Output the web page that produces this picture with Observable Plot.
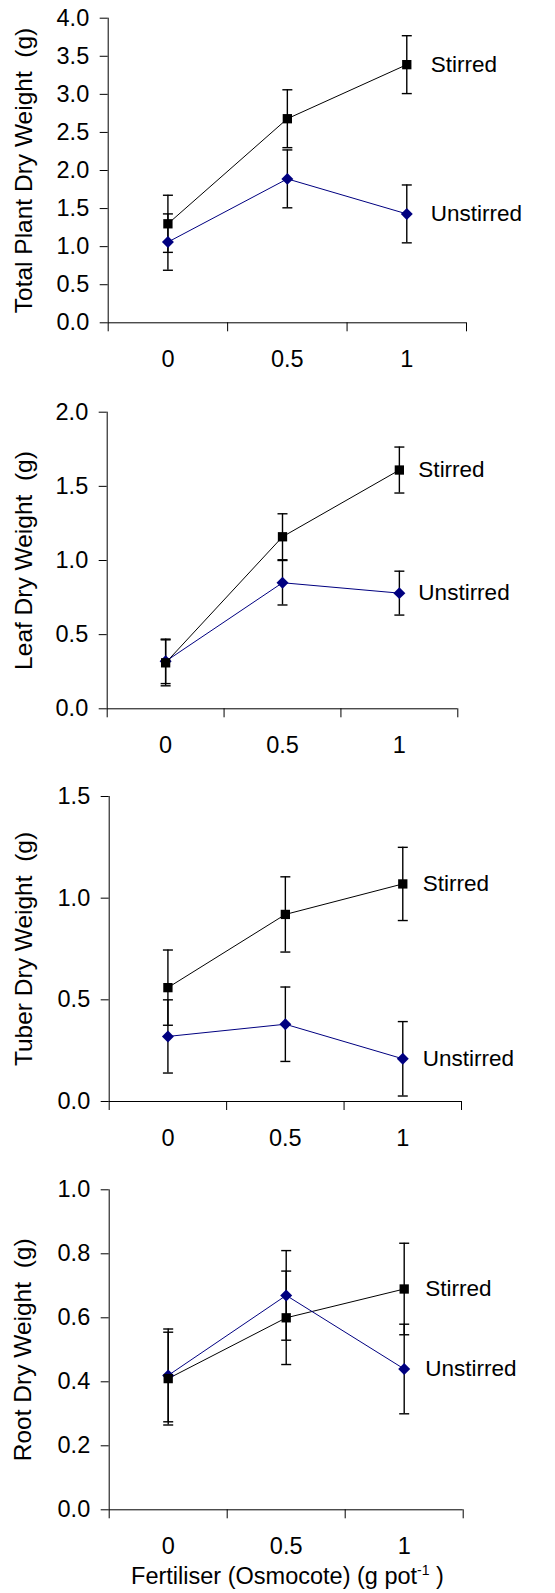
<!DOCTYPE html>
<html>
<head>
<meta charset="utf-8">
<script src="https://cdn.jsdelivr.net/npm/d3@7"></script>
<script src="https://cdn.jsdelivr.net/npm/@observablehq/plot@0.6"></script>
<style>
  html, body { margin: 0; padding: 0; background: white; }
  body { width: 555px; font-family: "Liberation Sans", Arial, sans-serif; color: black; }
  svg { display: block; }
  .xtitle { width: 555px; height: 33px; line-height: 33px; font-size: 23.5px; text-align: center; padding-left: 20px; box-sizing: border-box; white-space: pre; }
  .xtitle sup { font-size: 14px; line-height: 0; vertical-align: 9px; }
</style>
</head>
<body>
<script>
// ---- data ----
const fertiliser = [0, 0.5, 1];
const xTickLabels = ["0", "0.5", "1"];
const seriesNames = ["Stirred", "Unstirred"];

const totalStirred = [1.30, 2.68, 3.39];
const totalStirredErr = [0.375, 0.38, 0.38];
const totalUnstirred = [1.06, 1.89, 1.43];
const totalUnstirredErr = [0.37, 0.38, 0.38];
const totalTicks = [0, 0.5, 1, 1.5, 2, 2.5, 3, 3.5, 4];

const leafStirred = [0.31, 1.16, 1.61];
const leafStirredErr = [0.155, 0.155, 0.155];
const leafUnstirred = [0.32, 0.85, 0.78];
const leafUnstirredErr = [0.15, 0.15, 0.148];
const leafTicks = [0, 0.5, 1, 1.5, 2];

const tuberStirred = [0.56, 0.92, 1.07];
const tuberStirredErr = [0.185, 0.185, 0.18];
const tuberUnstirred = [0.32, 0.38, 0.21];
const tuberUnstirredErr = [0.18, 0.183, 0.183];
const tuberTicks = [0, 0.5, 1, 1.5];

const rootStirred = [0.41, 0.60, 0.69];
const rootStirredErr = [0.145, 0.146, 0.143];
const rootUnstirred = [0.42, 0.67, 0.44];
const rootUnstirredErr = [0.145, 0.14, 0.14];
const rootTicks = [0, 0.2, 0.4, 0.6, 0.8, 1.0];

const yLabels = ["Total Plant Dry Weight\u00a0 (g)", "Leaf Dry Weight\u00a0 (g)", "Tuber Dry Weight\u00a0 (g)", "Root Dry Weight\u00a0 (g)"];

// ---- drawing ----
const bandEdges = [-0.25, 0.25, 0.75, 1.25];
const capSymbol = { draw(ctx) { ctx.moveTo(-5, 0); ctx.lineTo(5, 0); } };
const TICK_FS = 23.5;
const LABEL_FS = 22.5;
const YLAB_FS = 24.5;

function panel(cfg) {
  const rows = [];
  fertiliser.forEach((f, i) => {
    rows.push({series: seriesNames[0], x: f, y: cfg.stirred[i], err: cfg.stirredErr[i]});
    rows.push({series: seriesNames[1], x: f, y: cfg.unstirred[i], err: cfg.unstirredErr[i]});
  });
  const S = rows.filter(d => d.series === seriesNames[0]);
  const U = rows.filter(d => d.series === seriesNames[1]);
  const last = rows.filter(d => d.x === fertiliser[fertiliser.length - 1]);
  const yTop = cfg.ticks[cfg.ticks.length - 1];
  return Plot.plot({
    width: 555,
    height: cfg.height,
    marginTop: cfg.mt, marginBottom: cfg.mb, marginLeft: cfg.ml, marginRight: cfg.mr,
    x: {type: "linear", domain: [bandEdges[0], bandEdges[bandEdges.length - 1]], axis: null},
    y: {domain: [0, yTop], axis: null},
    style: {fontFamily: "'Liberation Sans', Arial, sans-serif", fontSize: LABEL_FS + "px", color: "black", background: "white", overflow: "visible"},
    marks: [
      Plot.ruleX([bandEdges[0]], {stroke: "black", strokeWidth: 1}),
      Plot.ruleY([0], {stroke: "black", strokeWidth: 1}),
      Plot.axisY({ticks: cfg.ticks, tickSize: 8, tickPadding: 11, tickFormat: d3.format(".1f"), stroke: "black", fill: "black", fontSize: TICK_FS, label: null}),
      Plot.axisX({ticks: bandEdges, tickSize: 9, tickFormat: () => "", stroke: "black", label: null}),
      Plot.axisX({ticks: fertiliser, tickSize: 0, tickPadding: 28, tickFormat: (d) => xTickLabels[fertiliser.indexOf(d)], fill: "black", fontSize: TICK_FS, label: null}),
      Plot.text([cfg.label], {frameAnchor: "left", textAnchor: "middle", lineAnchor: "middle", rotate: -90, dx: cfg.ldx, fontSize: YLAB_FS, fill: "black", text: d => d}),
      Plot.line(S, {x: "x", y: "y", stroke: "black", strokeWidth: 1}),
      Plot.line(U, {x: "x", y: "y", stroke: "#000080", strokeWidth: 1}),
      Plot.ruleX(rows, {x: "x", y1: d => d.y - d.err, y2: d => d.y + d.err, stroke: "black", strokeWidth: 1.4}),
      Plot.dot(rows, {x: "x", y: d => d.y + d.err, symbol: capSymbol, r: 3, fill: "none", stroke: "black", strokeWidth: 1.4}),
      Plot.dot(rows, {x: "x", y: d => d.y - d.err, symbol: capSymbol, r: 3, fill: "none", stroke: "black", strokeWidth: 1.4}),
      Plot.dot(U, {x: "x", y: "y", symbol: "diamond2", r: 5.4, fill: "#000080", stroke: "none"}),
      Plot.dot(S, {x: "x", y: "y", symbol: "square", r: 5.25, fill: "black", stroke: "none"}),
      Plot.text(last, {x: "x", y: "y", text: "series", textAnchor: "start", dx: cfg.sdx, fill: "black", fontSize: LABEL_FS})
    ]
  });
}

const panels = [
  {label: yLabels[0], stirred: totalStirred, stirredErr: totalStirredErr, unstirred: totalUnstirred, unstirredErr: totalUnstirredErr, ticks: totalTicks,
   height: 390, mt: 17.7, mb: 67.7, ml: 107.7, mr: 89, ldx: -84.2, sdx: 24},
  {label: yLabels[1], stirred: leafStirred, stirredErr: leafStirredErr, unstirred: leafUnstirred, unstirredErr: leafUnstirredErr, ticks: leafTicks,
   height: 390, mt: 21.7, mb: 71.7, ml: 106.7, mr: 97.7, ldx: -82.7, sdx: 19},
  {label: yLabels[2], stirred: tuberStirred, stirredErr: tuberStirredErr, unstirred: tuberUnstirred, unstirredErr: tuberUnstirredErr, ticks: tuberTicks,
   height: 400, mt: 16, mb: 79, ml: 108.7, mr: 94, ldx: -85.2, sdx: 20},
  {label: yLabels[3], stirred: rootStirred, stirredErr: rootStirredErr, unstirred: rootUnstirred, unstirredErr: rootUnstirredErr, ticks: rootTicks,
   height: 380, mt: 9.3, mb: 50.7, ml: 108.7, mr: 92.3, ldx: -86.2, sdx: 21}
];

for (const p of panels) document.body.appendChild(panel(p));

const cap = document.createElement("div");
cap.className = "xtitle";
cap.innerHTML = "Fertiliser (Osmocote) (g pot<sup>-1</sup> )";
document.body.appendChild(cap);
</script>
</body>
</html>
